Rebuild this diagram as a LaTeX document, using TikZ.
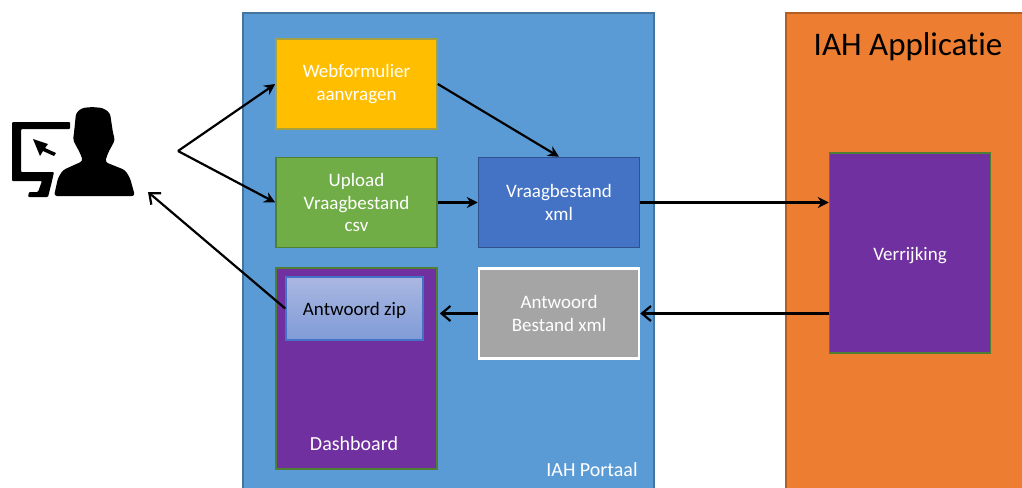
\documentclass[tikz,border=0pt]{standalone}
\usepackage{fontspec}
\setmainfont[RawFeature=-liga]{Carlito}
\usetikzlibrary{positioning,arrows.meta}
\definecolor{portaalblue}{HTML}{5B9BD5}
\definecolor{appsorange}{HTML}{ED7D31}
\definecolor{dashpurple}{HTML}{7030A0}
\definecolor{edgegreen}{HTML}{507E32}
\tikzstyle{base box}=[
        draw,
        line width = 1.5pt,
        text = white,
        align = center,
        inner sep = 0pt,
        minimum width = 161pt,
        minimum height = 90pt,
        execute at begin node = {\rule{0pt}{18pt}},
        font = \fontsize{19}{22.5}\selectfont
    ]
\tikzstyle{flow}=[
    line width = 2.2pt,
    -{Stealth[length=11pt,width=11pt]}
]
\tikzstyle{open flow}=[
    line width = 2.2pt,
    -{Straight Barb[length=9pt,width=15pt]}
]

\begin{document}
\begin{tikzpicture}[x=1pt, y=-1pt]
        \path[use as bounding box, clip] (0,0) rectangle (1022,487);

        % background panels
        \fill[white] (0,0) rectangle (1022,487);
        \draw[line width=1.5pt, draw=portaalblue!75!black, fill=portaalblue] (243,13) rectangle (654,500);
        \draw[line width=1.5pt, draw=appsorange!75!black, fill=appsorange] (786,13) rectangle (1040,500);
        \node[text=black, font=\fontsize{33}{36}\selectfont] (apptitle) at (908,47) {IAH Applicatie};
        \node[text=white, font=\fontsize{20}{22}\selectfont] (portaaltitle) at (592,470) {IAH Portaal};

        % boxes
        \node[base box, draw=yellow!60!black, fill=orange!50!yellow] (web) at (356.5,84) {Webformulier\\aanvragen};
        \node[base box, draw=edgegreen, fill={rgb,255:red,112;green,173;blue,71}] (upload) [below of = web, node distance = 118.5pt] {Upload\\Vraagbestand\\csv};
        \node[base box, draw={rgb,255:red,47;green,82;blue,143}, fill={rgb,255:red,68;green,114;blue,196}] (vraag) [right of = upload, node distance = 202.5pt] {Vraagbestand\\xml};
        \node[base box, draw=white, line width=2.5pt, minimum width=160pt, fill={rgb,255:red,165;green,165;blue,165}] (antwoord) [below of = vraag, node distance = 111pt] {Antwoord\\Bestand xml};
        \node[base box, draw=edgegreen, fill=dashpurple, minimum height=201pt] (dash) at (356.5,368.5) {};
        \node[text=white, font=\fontsize{20}{22}\selectfont] (dashlabel) at (354,444) {Dashboard};
        \node[base box, draw={rgb,255:red,68;green,114;blue,196}, text=black, minimum width=137pt, minimum height=63pt,
            top color={rgb,255:red,170;green,183;blue,225}, bottom color={rgb,255:red,128;green,155;blue,215}] (zip) at (354.5,308.5) {Antwoord zip};
        \node[base box, draw=edgegreen, fill=dashpurple, minimum height=200pt] (verrijking) at (910,253) {Verrijking};

        % user icon
        \fill[black, rounded corners=1pt] (12,122) -- (70,122) -- (70,129) -- (21,129) -- (21,172) -- (54,172) -- (52,181) -- (48,197) -- (28,197) -- (29,192) -- (38,192) -- (42,181) -- (12,181) -- cycle;
        \fill[black] (33,139) -- (48,144) -- (45,148) -- (56,153) -- (54,156) -- (43,151) -- (40,156) -- cycle;
        \fill[black, rounded corners=3pt] (54,196) -- (58,178) -- (63,170) -- (83,161) -- (80,153) -- (73,140) -- (74,133) -- (76,113) -- (82,108) -- (92,107) -- (103,108) -- (110,113) -- (113,133) -- (115,140) -- (108,153) -- (105,162) -- (125,170) -- (130,178) -- (135,196) -- cycle;
        \coordinate (fork) at (178,151);
        \coordinate (user) at (148,192);

        % connectors
        \draw[flow] (fork) -- (web.west);
        \draw[flow] (fork) -- (upload.west);
        \draw[flow] (web.east) -- (vraag.north);
        \draw[flow] (upload.east) -- (vraag.west);
        \draw[flow] (vraag.east) -- (vraag.east -| verrijking.west);
        \draw[open flow] (verrijking.west |- antwoord.east) -- (antwoord.east);
        \draw[open flow] (antwoord.west) -- ([xshift=2pt]dash.east |- antwoord.west);
        \draw[open flow] (zip.west) -- (user);

    \end{tikzpicture}
\end{document}
